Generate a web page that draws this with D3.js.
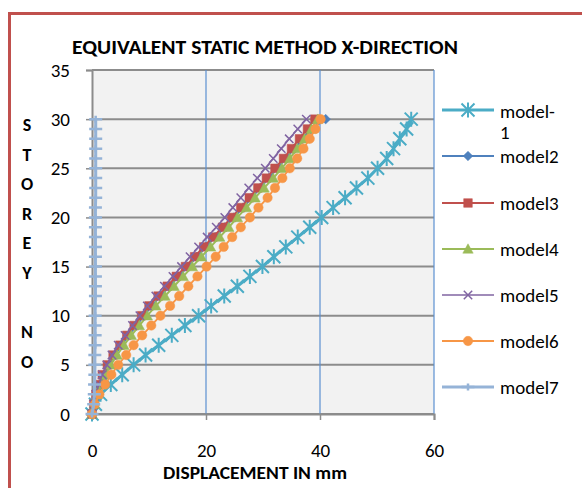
<!DOCTYPE html>
<html>
<head>
<meta charset="utf-8">
<script src="https://cdn.jsdelivr.net/npm/d3@7"></script>
<style>
  html, body { margin: 0; padding: 0; background: #ffffff; }
  svg { display: block; }
  text { font-family: Carlito, Lato, "Liberation Sans", sans-serif; fill: #000; }
</style>
</head>
<body>
<svg id="chart" width="582" height="488"></svg>
<script>
// ---------- data ----------
const storeys = [0,1,2,3,4,5,6,7,8,9,10,11,12,13,14,15,16,17,18,19,20,21,22,23,24,25,26,27,28,29,30];
const model1 = [0,0.6,1.5,3.3,5.3,7.3,9.4,11.7,14.0,16.3,18.7,20.9,23.2,25.5,27.7,29.9,31.9,34.0,36.1,38.2,40.3,42.3,44.4,46.4,48.4,50.1,51.7,52.9,54.0,55.2,56.0];
const model2 = [0,0.3,0.8,1.4,2.1,3.0,4.0,5.2,6.4,7.8,9.1,10.5,12.0,13.6,15.2,16.8,18.4,20.0,21.6,23.3,24.9,26.5,28.0,29.5,31.0,32.5,34.0,35.5,36.9,38.4,41.0];
const model3 = [0,0.3,0.7,1.2,1.8,2.7,3.7,4.9,6.1,7.4,8.7,10.0,11.6,13.2,14.8,16.4,18.0,19.6,21.2,22.9,24.5,26.1,27.6,29.1,30.6,32.1,33.6,35.0,36.4,37.8,39.1];
const model4 = [0,0.4,0.9,1.6,2.4,3.3,4.4,5.6,6.9,8.3,9.7,11.2,12.8,14.4,16.0,17.6,19.2,20.8,22.4,24.0,25.5,27.1,28.6,30.2,31.8,33.3,34.7,36.0,37.3,38.5,39.6];
const model5 = [0,0.3,0.7,1.2,1.8,2.6,3.5,4.6,5.8,7.1,8.4,9.7,11.2,12.7,14.2,15.7,17.2,18.7,20.2,21.8,23.3,24.7,26.1,27.5,29.0,30.4,31.8,33.2,34.6,36.1,37.6];
const model6 = [0,0.5,1.3,2.3,3.4,4.6,6.0,7.3,8.8,10.4,12.0,13.7,15.3,16.9,18.5,20.1,21.7,23.1,24.6,26.1,27.7,29.2,30.8,32.1,33.4,34.7,36.0,37.1,38.2,39.2,40.1];
const model7 = [0,0.3,0.4,0.45,0.5,0.5,0.5,0.55,0.55,0.55,0.55,0.55,0.6,0.6,0.6,0.6,0.6,0.6,0.6,0.6,0.6,0.6,0.65,0.65,0.65,0.65,0.65,0.65,0.65,0.65,0.65];
const seriesNames = ["model-1","model2","model3","model4","model5","model6","model7"];
const xTicks = [0,20,40,60];
const yTicks = [0,5,10,15,20,25,30,35];
const chartTitle = "EQUIVALENT STATIC METHOD X-DIRECTION";
const xTitle = "DISPLACEMENT IN mm";
const yTitleLetters = ["S","T","O","R","E","Y","","N","O"];

// ---------- styles ----------
const FONT = "Carlito, Lato, 'Liberation Sans', sans-serif";
const styles = [
  {color:"#4bacc6", width:3,   marker:"star"},
  {color:"#4f81bd", width:2,   marker:"diamond"},
  {color:"#c0504d", width:2,   marker:"square"},
  {color:"#9bbb59", width:2,   marker:"triangle"},
  {color:"#8064a2", width:1.6, marker:"x"},
  {color:"#f79646", width:1.8, marker:"circle"},
  {color:"#95b3d7", width:3,   marker:"plus"}
];
const seriesData = [model1, model2, model3, model4, model5, model6, model7];

const svg = d3.select("#chart");
const x = d3.scaleLinear().domain([0,60]).range([92,434]);
const y = d3.scaleLinear().domain([0,35]).range([414,70]);

// outer red frame (extends beyond the canvas on right/bottom)
svg.append("rect").attr("x",9.5).attr("y",13.5).attr("width",620).attr("height",520)
  .attr("fill","none").attr("stroke","#c0504d").attr("stroke-width",3);

// plot background
svg.append("rect").attr("x",x(0)).attr("y",y(35)).attr("width",x(60)-x(0)).attr("height",y(0)-y(35))
  .attr("fill","#f2f2f2");

// horizontal gridlines (gray)
svg.append("g").selectAll("line").data(yTicks).join("line")
  .attr("x1",x(0)).attr("x2",x(60)).attr("y1",d=>y(d)).attr("y2",d=>y(d))
  .attr("stroke","#8c8c8c").attr("stroke-width",2);

// vertical gridlines (blue)
svg.append("g").selectAll("line").data(xTicks.slice(1)).join("line")
  .attr("x1",d=>x(d)).attr("x2",d=>x(d)).attr("y1",y(35)).attr("y2",y(0))
  .attr("stroke","#5b8fd0").attr("stroke-width",1.2);

// axes
const yAxis = d3.axisLeft(y).tickValues(yTicks).tickSize(6).tickPadding(16);
const gy = svg.append("g").attr("transform",`translate(${x(0)},0)`).call(yAxis);
gy.select(".domain").attr("stroke","#8c8c8c").attr("stroke-width",2);
gy.selectAll(".tick line").attr("stroke","#8c8c8c").attr("stroke-width",1.5);
gy.selectAll(".tick text").attr("font-size",19).attr("font-family",FONT).attr("fill","#000");

const xAxis = d3.axisBottom(x).tickValues(xTicks).tickSize(6).tickPadding(24);
const gx = svg.append("g").attr("transform",`translate(0,${y(0)})`).call(xAxis);
gx.select(".domain").attr("stroke","#8c8c8c").attr("stroke-width",2);
gx.selectAll(".tick line").attr("stroke","#8c8c8c").attr("stroke-width",1.5);
gx.selectAll(".tick text").attr("font-size",19).attr("font-family",FONT).attr("fill","#000");

// marker paths
function markerPath(type){
  switch(type){
    case "star": return "M-6.5,-6.5L6.5,6.5M-6.5,6.5L6.5,-6.5M0,-7.5L0,7.5";
    case "diamond": return "M0,-4.8L4.8,0L0,4.8L-4.8,0Z";
    case "square": return "M-4.3,-4.3H4.3V4.3H-4.3Z";
    case "triangle": return "M0,-5.2L5.2,4.2L-5.2,4.2Z";
    case "x": return "M-4.2,-4.2L4.2,4.2M-4.2,4.2L4.2,-4.2";
    case "plus": return "M-6.5,0L6.5,0M0,-3.5L0,3.5";
    case "circle": return "M4.7,0A4.7,4.7,0,1,1,-4.7,0A4.7,4.7,0,1,1,4.7,0Z";
  }
}
function drawMarker(g, type, color){
  const p = g.append("path").attr("d", markerPath(type));
  if (type==="star"||type==="x"||type==="plus"){
    p.attr("fill","none").attr("stroke",color).attr("stroke-width", type==="star"?2:(type==="plus"?2.5:1.5));
  } else {
    p.attr("fill",color).attr("stroke",color).attr("stroke-width",0.5);
  }
}

// series
const line = d3.line().x(d=>x(d.v)).y(d=>y(d.s));
seriesData.forEach((vals, i) => {
  const st = styles[i];
  const pts = storeys.map((s, k) => ({s: s, v: vals[k]}));
  const g = svg.append("g");
  g.append("path").datum(pts).attr("d", line).attr("fill","none")
    .attr("stroke", st.color).attr("stroke-width", st.width).attr("stroke-linejoin","round");
  pts.forEach(p => {
    const mg = g.append("g").attr("transform", `translate(${x(p.v)},${y(p.s)})`);
    drawMarker(mg, st.marker, st.color);
  });
});

// title
svg.append("text").attr("x",265).attr("y",54).attr("text-anchor","middle")
  .attr("font-size",20).attr("font-weight","bold")
  .attr("textLength",386).attr("lengthAdjust","spacingAndGlyphs")
  .text(chartTitle);

// x title
svg.append("text").attr("x",255).attr("y",479).attr("text-anchor","middle")
  .attr("font-size",17).attr("font-weight","bold")
  .attr("textLength",184).attr("lengthAdjust","spacingAndGlyphs")
  .text(xTitle);

// y title (stacked letters)
svg.append("g").selectAll("text").data(yTitleLetters).join("text")
  .attr("x",27).attr("y",(d,i)=>131 + i*29.6).attr("text-anchor","middle")
  .attr("font-size",18).attr("font-weight","bold").text(d=>d);

// legend
const legY = [110,156,203,249,295,341,387];
seriesNames.forEach((name, i) => {
  const st = styles[i];
  const g = svg.append("g");
  g.append("line").attr("x1",442).attr("x2",494).attr("y1",legY[i]).attr("y2",legY[i])
    .attr("stroke",st.color).attr("stroke-width",st.width);
  const mg = g.append("g").attr("transform",`translate(468,${legY[i]})`);
  drawMarker(mg, st.marker, st.color);
  if (name === "model-1") {
    g.append("text").attr("x",500).attr("y",legY[i]+8).attr("font-size",19).text("model-");
    g.append("text").attr("x",500).attr("y",legY[i]+29).attr("font-size",19).text("1");
  } else {
    g.append("text").attr("x",500).attr("y",legY[i]+7).attr("font-size",19).text(name);
  }
});
</script>
</body>
</html>
